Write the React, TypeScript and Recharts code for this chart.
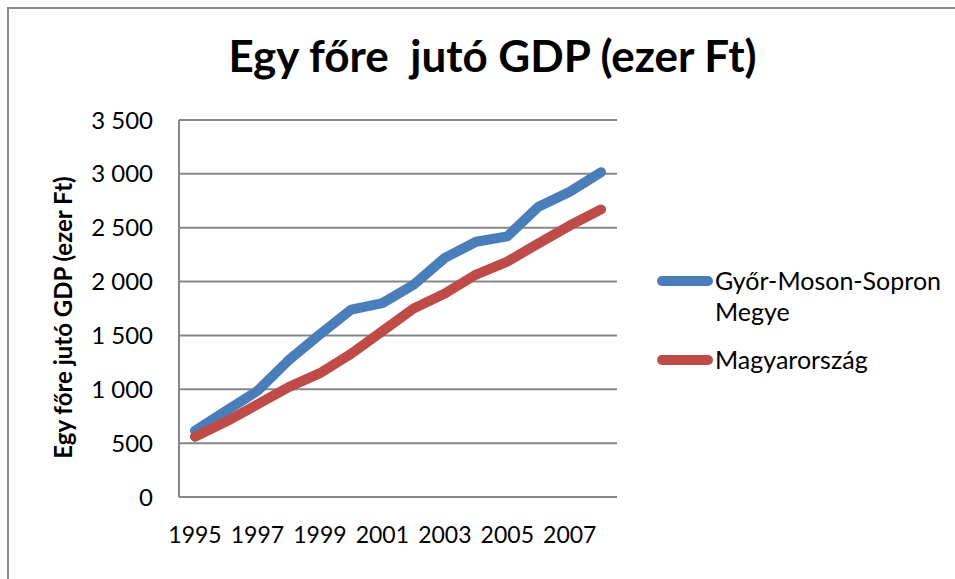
import React from 'react';
import { LineChart, Line, XAxis, YAxis, CartesianGrid } from 'recharts';

const years = ['1995', '1996', '1997', '1998', '1999', '2000', '2001', '2002', '2003', '2004', '2005', '2006', '2007', '2008'];
const gyorValues = [615, 800, 985, 1270, 1510, 1740, 1800, 1970, 2220, 2370, 2420, 2695, 2835, 3015];
const huValues = [560, 700, 860, 1020, 1150, 1330, 1540, 1750, 1890, 2065, 2185, 2355, 2520, 2670];
const yTicks = [0, 500, 1000, 1500, 2000, 2500, 3000, 3500];

const series = [
  { key: 'gyor', name: 'Győr-Moson-Sopron Megye', color: '#4a7ebb' },
  { key: 'hu', name: 'Magyarország', color: '#be4b48' },
];

const data = years.map((year, i) => ({ year, gyor: gyorValues[i], hu: huValues[i] }));

const FONT = 'Lato, "Open Sans", sans-serif';
const GRID = '#878787';

const fmt = (v: number) => String(v).replace(/\B(?=(\d{3})+(?!\d))/g, ' ');

const YLabel = (props: any) => {
  const vb = props.viewBox || {};
  const cx = 62;
  const cy = vb.y + vb.height / 2 + 9;
  return (
    <text
      x={cx}
      y={cy}
      transform={`rotate(-90, ${cx}, ${cy})`}
      textAnchor="middle"
      dominantBaseline="central"
      fontFamily={FONT}
      fontWeight={700}
      fontSize={24}
      fill="#000"
    >
      Egy főre jutó GDP (ezer Ft)
    </text>
  );
};

const LegendBox = () => (
  <div
    style={{
      position: 'absolute',
      left: 657,
      top: 265,
      width: 300,
      fontFamily: FONT,
      fontSize: 25,
      color: '#000',
      lineHeight: '31px',
    }}
  >
    {series.map((s) => (
      <div key={s.key} style={{ display: 'flex', alignItems: 'flex-start', marginBottom: 17 }}>
        <div
          style={{
            width: 56,
            height: 10,
            borderRadius: 5,
            background: s.color,
            marginTop: 11,
            flexShrink: 0,
          }}
        />
        <div style={{ width: 235, marginLeft: 2 }}>{s.name}</div>
      </div>
    ))}
  </div>
);

const App: React.FC = () => {
  return (
    <div style={{ position: 'absolute', left: 0, top: 0, width: 955, height: 579, background: '#fff', overflow: 'hidden' }}>
      <div
        style={{
          position: 'absolute',
          left: 7,
          top: 7,
          width: 1000,
          height: 700,
          borderLeft: '2px solid #888',
          borderTop: '2px solid #888',
        }}
      />
      <div
        style={{
          position: 'absolute',
          left: 0,
          top: 29,
          width: 985,
          textAlign: 'center',
          fontFamily: FONT,
          fontWeight: 700,
          fontSize: 44,
          color: '#000',
        }}
      >
        Egy főre&nbsp; jutó GDP (ezer Ft)
      </div>
      <LineChart width={955} height={579} data={data} margin={{ top: 120, right: 338, bottom: 52, left: 119 }}>
        <CartesianGrid vertical={false} stroke={GRID} strokeWidth={2} />
        <XAxis
          dataKey="year"
          height={30}
          interval={1}
          padding={{ left: 16, right: 16 }}
          tickLine={false}
          axisLine={{ stroke: GRID, strokeWidth: 2 }}
          tickMargin={24}
          tick={{ fill: '#000', fontSize: 23, fontFamily: FONT }}
        />
        <YAxis
          width={60}
          domain={[0, 3500]}
          ticks={yTicks}
          tickFormatter={fmt}
          tickLine={false}
          axisLine={{ stroke: GRID, strokeWidth: 2 }}
          tickMargin={20}
          tick={{ fill: '#000', fontSize: 24, fontFamily: FONT }}
          label={<YLabel />}
        />
        {series.map((s) => (
          <Line
            key={s.key}
            type="linear"
            dataKey={s.key}
            name={s.name}
            stroke={s.color}
            strokeWidth={10}
            strokeLinecap="round"
            strokeLinejoin="round"
            dot={false}
            activeDot={false}
            isAnimationActive={false}
          />
        ))}
      </LineChart>
      <LegendBox />
    </div>
  );
};

export default App;
